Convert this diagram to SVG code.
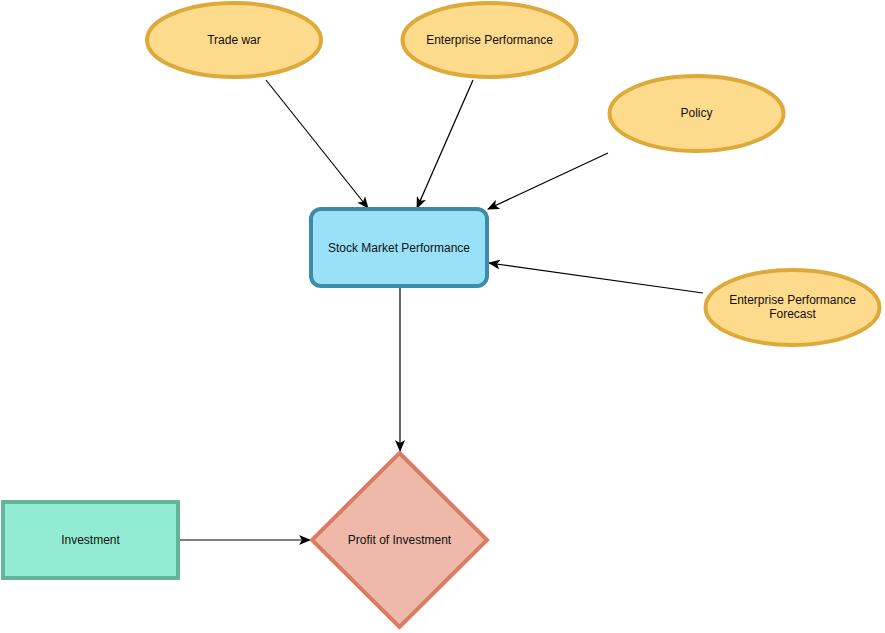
<svg xmlns="http://www.w3.org/2000/svg" width="885" height="633" viewBox="0 0 885 633">
<style>
.ell{fill:#FEDA8C;stroke:#DDAA3A;stroke-width:4}
.lbl{font-family:"Liberation Sans",Arial,sans-serif;font-size:12px;fill:#111;text-anchor:middle;dominant-baseline:central}
.edge{stroke:#000;stroke-width:1.2;fill:none;marker-end:url(#arr)}
</style>
<defs>
<marker id="arr" viewBox="0 0 12 10" refX="11" refY="5" markerWidth="12" markerHeight="10" markerUnits="userSpaceOnUse" orient="auto">
<path d="M0,0 L12,5 L0,10 L3,5 Z" fill="#000"/>
</marker>
</defs>
<rect width="885" height="633" fill="#fff"/>
<g id="connectors">
<line class="edge" x1="266" y1="80" x2="368" y2="208"/>
<line class="edge" x1="473" y1="80" x2="417" y2="208"/>
<line class="edge" x1="608" y1="153" x2="488" y2="209"/>
<line class="edge" x1="703" y1="293" x2="489" y2="263"/>
<line class="edge" x1="400" y1="288" x2="400" y2="451"/>
<line class="edge" x1="180" y1="540" x2="310" y2="540"/>
</g>
<g id="trade-war">
<ellipse class="ell" cx="234" cy="40" rx="87" ry="37"/>
<text class="lbl" x="234" y="40">Trade war</text>
</g>
<g id="enterprise-performance">
<ellipse class="ell" cx="489.5" cy="40" rx="87" ry="37"/>
<text class="lbl" x="489.5" y="40">Enterprise Performance</text>
</g>
<g id="policy">
<ellipse class="ell" cx="696.5" cy="113.5" rx="87" ry="37.5"/>
<text class="lbl" x="696.5" y="113">Policy</text>
</g>
<g id="forecast">
<ellipse class="ell" cx="792.5" cy="307.5" rx="87" ry="37.5"/>
<text class="lbl" x="792.5" y="300">Enterprise Performance</text>
<text class="lbl" x="792.5" y="314">Forecast</text>
</g>
<g id="stock-market">
<rect x="311" y="209" width="176" height="77" rx="10" fill="#99E1F8" stroke="#3C8CA9" stroke-width="4"/>
<text class="lbl" x="399" y="248">Stock Market Performance</text>
</g>
<g id="investment">
<rect x="3" y="502" width="175" height="76" fill="#92ECD3" stroke="#66B39B" stroke-width="4"/>
<text class="lbl" x="90.5" y="540">Investment</text>
</g>
<g id="profit">
<polygon points="399.5,453 487,540 399.5,627 312,540" fill="#EEB9A8" stroke="#DB7C62" stroke-width="4"/>
<text class="lbl" x="399.5" y="540">Profit of Investment</text>
</g>
</svg>
